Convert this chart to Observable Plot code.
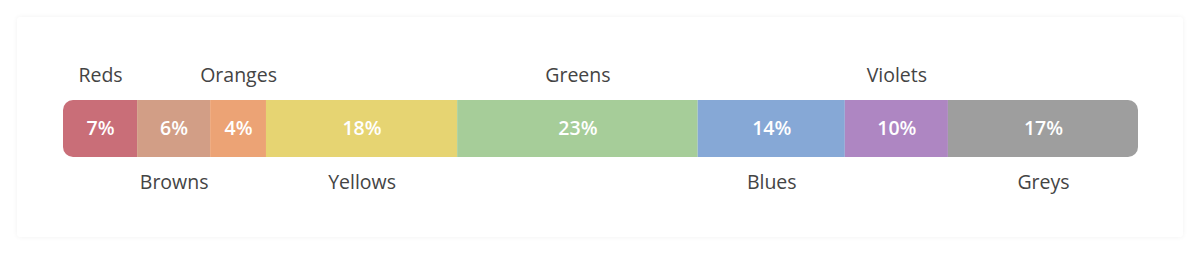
<!DOCTYPE html>
<html>
<head>
<meta charset="utf-8">
<script src="https://cdn.jsdelivr.net/npm/d3@7"></script>
<script src="https://cdn.jsdelivr.net/npm/@observablehq/plot@0.6"></script>
<style>
  html, body { margin: 0; padding: 0; background: #fff; }
  #wrap { position: relative; width: 1200px; height: 255px; overflow: hidden; }
  #card { position: absolute; left: 17px; top: 17px; width: 1166px; height: 220px;
          background: #fff; border-radius: 3px; box-shadow: 0 0 5px rgba(0,0,0,0.06); }
  #chart { position: absolute; left: 0; top: 0; }
</style>
</head>
<body>
<div id="wrap"><div id="card"></div><div id="chart"></div></div>
<script>
const categories = ["Reds", "Browns", "Oranges", "Yellows", "Greens", "Blues", "Violets", "Greys"];
const shares = [6.9, 6.8, 5.2, 17.8, 22.4, 13.7, 9.6, 17.7];
const percentLabels = ["7%", "6%", "4%", "18%", "23%", "14%", "10%", "17%"];
const labelSide = ["top", "bottom", "top", "bottom", "top", "bottom", "top", "bottom"];
const colors = ["#c96e78", "#d29e86", "#eca375", "#e6d472", "#a6cd99", "#86a8d6", "#ae86c2", "#9e9e9e"];

const data = categories.map((c, i) => ({
  category: c, share: shares[i], pct: percentLabels[i], side: labelSide[i], row: "bar"
}));
const total = d3.sum(shares);

const font = "'Open Sans', 'Noto Sans', sans-serif";

const plot = Plot.plot({
  width: 1200,
  height: 255,
  margin: 0,
  style: { fontFamily: font, background: "transparent", overflow: "visible" },
  x: { domain: [0, total], range: [63, 1138], axis: null },
  y: { domain: ["bar"], range: [100, 157], padding: 0, axis: null },
  color: { domain: categories, range: colors },
  marks: [
    Plot.barX(data, Plot.stackX({
      x: "share", y: "row", fill: "category", order: null, className: "segments"
    })),
    Plot.text(data, Plot.stackX({
      x: "share", y: "row", text: "pct", order: null,
      fill: "#fff", fontSize: 19.5, fontWeight: 600
    })),
    Plot.text(data, Plot.stackX({
      x: "share", y: "row", text: d => d.side === "top" ? d.category : null, order: null,
      fill: "#444", fontSize: 19.5, dy: -53
    })),
    Plot.text(data, Plot.stackX({
      x: "share", y: "row", text: d => d.side === "bottom" ? d.category : null, order: null,
      fill: "#444", fontSize: 19.5, dy: 54
    }))
  ]
});

document.getElementById("chart").appendChild(plot);

// Rounded ends: clip the bar group with a rounded rect derived from scales
const xs = plot.scale("x"), ys = plot.scale("y");
const x0 = xs.apply(0), x1 = xs.apply(total);
const y0 = ys.apply("bar"), bw = ys.bandwidth;
const svg = d3.select(plot);
const defs = svg.insert("defs", ":first-child");
defs.append("clipPath").attr("id", "barclip")
  .append("rect").attr("x", x0).attr("y", y0).attr("width", x1 - x0).attr("height", bw)
  .attr("rx", 10).attr("ry", 10);
svg.select("g.segments").attr("clip-path", "url(#barclip)");
</script>
</body>
</html>
